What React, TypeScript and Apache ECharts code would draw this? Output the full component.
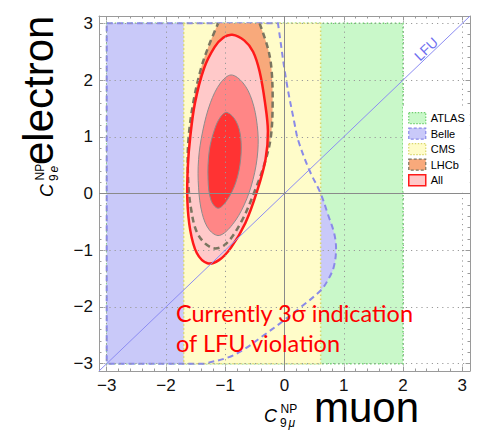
import React, { useEffect, useRef } from "react";
import * as echarts from "echarts";

// Axis window: a small pad beyond the ±3 range on every side
const axisMin = -3.13;
const axisMax = 3.13;
const majorTicks = [-3, -2, -1, 0, 1, 2, 3];
const minorTicks: number[] = [];
for (let i = -15; i <= 15; i++) if (i % 5 !== 0) minorTicks.push(i / 5);

// Allowed bands of the individual experiments, (C9mu, C9e)
const atlasX = [-3, 2];
const atlasY = [-3, 3];
const cmsX = [-1.7, 0.61];
const cmsY = [-3, 3];

// Belle region: left/top/bottom frame edges plus its dashed right boundary
const bellePts = [
  [-3, 3], [-0.11, 3], [0.03, 1.99], [0.17, 1.23], [0.23, 0.94], [0.42, 0.41],
  [0.61, 0], [0.73, -0.36], [0.84, -0.71], [0.87, -0.99], [0.83, -1.3],
  [0.73, -1.53], [0.61, -1.71], [0.28, -2.0], [-0.05, -2.27], [-0.39, -2.53],
  [-0.67, -2.74], [-0.95, -2.89], [-1.35, -3], [-3, -3],
];
const belleCorners = [0, 1, 18, 19];

// LHCb contour, cut by the upper edge at C9e = 3
const lhcbPts = [
  [-1.12, 3], [-0.42, 3], [-0.28, 2.56], [-0.22, 2.2], [-0.2, 1.6], [-0.23, 1.0],
  [-0.33, 0.55], [-0.5, 0.05], [-0.73, -0.5], [-1.0, -0.9], [-1.22, -0.96],
  [-1.46, -0.72], [-1.58, -0.25], [-1.63, 0.35], [-1.62, 0.96], [-1.54, 1.6],
  [-1.41, 2.2], [-1.28, 2.6],
];
const lhcbCorners = [0, 1];

// Global fit ("All"): 3, 2 and 1 sigma contours
const all3Pts = [
  [-0.88, 2.8], [-0.68, 2.7], [-0.53, 2.5], [-0.42, 2.15], [-0.33, 1.61],
  [-0.28, 1.1], [-0.32, 0.6], [-0.46, 0.05], [-0.66, -0.52], [-0.9, -0.95],
  [-1.1, -1.17], [-1.3, -1.23], [-1.48, -1.05], [-1.59, -0.65], [-1.64, -0.1],
  [-1.63, 0.5], [-1.59, 1.0], [-1.51, 1.6], [-1.36, 2.2], [-1.18, 2.58], [-1.03, 2.75],
];
const all2Pts = [
  [-0.9, 2.09], [-0.7, 1.95], [-0.55, 1.65], [-0.46, 1.2], [-0.45, 0.75],
  [-0.53, 0.25], [-0.68, -0.2], [-0.88, -0.55], [-1.1, -0.74], [-1.27, -0.64],
  [-1.39, -0.35], [-1.45, 0.1], [-1.45, 0.6], [-1.38, 1.1], [-1.25, 1.6], [-1.08, 1.95],
];
const all1Pts = [
  [-0.97, 1.43], [-0.82, 1.28], [-0.74, 1.0], [-0.74, 0.6], [-0.82, 0.2],
  [-0.97, -0.12], [-1.12, -0.26], [-1.24, -0.12], [-1.29, 0.25], [-1.27, 0.75],
  [-1.18, 1.13], [-1.08, 1.35],
];

// Lepton flavour universality diagonal
const lfuLine = [[axisMin, axisMin], [axisMax, axisMax]];

const legendNames = ["ATLAS", "Belle", "CMS", "LHCb", "All"];

const COL = {
  atlas: "#c9f8c9", atlasEdge: "#6fcf6f",
  belle: "#c9c9f9", belleEdge: "#8a8ae8",
  cms: "#fffcc9", cmsEdge: "#d9d66a",
  lhcb: "#f8a97b", lhcbEdge: "#7b7560",
  all3: "#ffc9c9", all2: "#ff8686", all1: "#ff3333", allEdge: "#ff1a1a",
  frame: "#9a9a9a", grid: "#9a9a9a", lfu: "#8c8cf2",
};

const FONT = '"Liberation Sans", Arial, sans-serif';

type ShapeOpts = {
  fill?: string; stroke?: string; width?: number; dash?: number[] | null;
  smooth?: number; corners?: number[]; open?: boolean;
};

function regionSeries(name: string, pts: number[][], o: ShapeOpts, itemStyle?: any) {
  return {
    type: "custom",
    name,
    silent: true,
    data: [0],
    itemStyle,
    renderItem: (_params: any, api: any) => {
      const px: number[][] = [];
      pts.forEach((p, i) => {
        const c = api.coord(p);
        px.push(c);
        if (o.corners && o.corners.includes(i)) px.push([c[0], c[1]]);
      });
      return {
        type: o.open ? "polyline" : "polygon",
        shape: { points: px, smooth: o.smooth ?? 0 },
        style: {
          fill: o.fill ?? "none",
          stroke: o.stroke ?? "none",
          lineWidth: o.width ?? 1,
          lineDash: o.dash ?? null,
        },
      };
    },
  };
}

function boxPts(xs: number[], ys: number[]) {
  return [[xs[0], ys[1]], [xs[1], ys[1]], [xs[1], ys[0]], [xs[0], ys[0]]];
}

const minus = (v: number) => (v < 0 ? "\u2212" + Math.abs(v) : String(v));

function axisSet(pos: string, primary: boolean, minor: boolean) {
  const ax: any = {
    type: "value",
    min: axisMin,
    max: axisMax,
    position: pos,
    axisLine: { show: !minor, onZero: false, lineStyle: { color: COL.frame, width: 1 } },
    axisTick: {
      show: true, inside: true, length: minor ? 2.5 : 4.5,
      customValues: minor ? minorTicks : majorTicks,
      lineStyle: { color: COL.frame, width: 1 },
    },
    axisLabel: { show: false },
    splitLine: { show: false },
  };
  if (primary) {
    ax.z = 3;
    ax.axisLabel = {
      show: true, customValues: majorTicks, formatter: minus, margin: 6,
      fontSize: 17, color: "#111", fontFamily: FONT,
    };
    ax.splitLine = { show: true, lineStyle: { color: COL.grid, width: 1, type: [1.2, 4] } };
  }
  return ax;
}

// Axis title: italic C with NP superscript and flavour subscript, then a word
function axisTitle(x: number, y: number, rotation: number, sub: string, word: string, wordX: number) {
  const t = (tx: number, ty: number, text: string, size: number, italic = false, lh?: number) => ({
    type: "text", x: tx, y: ty,
    style: {
      text, fill: "#000", font: `${italic ? "italic " : ""}${size}px ${FONT}`,
      align: "left", verticalAlign: "middle", lineHeight: lh ?? size,
    },
  });
  return {
    type: "group", x, y, rotation, z: 20,
    children: [
      t(0, -6.3, "C", 18, true),
      t(16.5, -13.2, "NP", 12, false, 10),
      t(16, 0.6, "9", 12, false, 10),
      t(24.5, 0.6, sub, 12, true, 10),
      t(wordX, -15, word, 42, false, 26),
    ],
  };
}

export default function App() {
  const ref = useRef<HTMLDivElement>(null);

  useEffect(() => {
    if (!ref.current) return;
    const chart = echarts.init(ref.current, undefined, { renderer: "svg" });

    const legendStyles: Record<string, any> = {
      ATLAS: { color: COL.atlas, borderColor: COL.atlasEdge, borderWidth: 1.2, borderType: [1.5, 1.5] },
      Belle: { color: COL.belle, borderColor: COL.belleEdge, borderWidth: 1.2, borderType: [3, 2] },
      CMS: { color: COL.cms, borderColor: COL.cmsEdge, borderWidth: 1.2, borderType: [1.5, 1.5] },
      LHCb: { color: COL.lhcb, borderColor: COL.lhcbEdge, borderWidth: 1.2, borderType: [3, 2] },
      All: { color: COL.all3, borderColor: COL.allEdge, borderWidth: 1.5, borderType: "solid" },
    };

    chart.setOption({
      animation: false,
      grid: { left: 99, right: 9, top: 16, bottom: 61, show: false },
      xAxis: [
        axisSet("bottom", true, false),
        axisSet("top", false, false),
        axisSet("bottom", false, true),
        axisSet("top", false, true),
      ],
      yAxis: [
        axisSet("left", true, false),
        axisSet("right", false, false),
        axisSet("left", false, true),
        axisSet("right", false, true),
      ],
      legend: {
        orient: "vertical",
        left: 403,
        top: 107,
        padding: [5, 5, 5, 5],
        backgroundColor: "#fff",
        itemWidth: 17,
        itemHeight: 11,
        itemGap: 3.3,
        icon: "rect",
        selectedMode: false,
        z: 10,
        textStyle: { fontSize: 11, color: "#000", fontFamily: FONT, lineHeight: 11 },
        data: legendNames.map((n) => ({ name: n, icon: "rect", itemStyle: legendStyles[n] })),
      },
      series: [
        regionSeries("ATLAS", boxPts(atlasX, atlasY), {
          fill: COL.atlas, stroke: COL.atlasEdge, width: 1.5, dash: [1.5, 2.5],
        }, legendStyles.ATLAS),
        regionSeries("Belle", bellePts, { fill: COL.belle, smooth: 0.35, corners: belleCorners }, legendStyles.Belle),
        regionSeries("CMS", boxPts(cmsX, cmsY), {
          fill: COL.cms, stroke: COL.cmsEdge, width: 1.5, dash: [1.5, 2.5],
        }, legendStyles.CMS),
        regionSeries("Belle edge", bellePts, {
          stroke: COL.belleEdge, width: 2, dash: [6, 4], smooth: 0.35, corners: belleCorners,
        }),
        regionSeries("LHCb", lhcbPts, { fill: COL.lhcb, smooth: 0.35, corners: lhcbCorners }, legendStyles.LHCb),
        regionSeries("All", all3Pts, { fill: COL.all3, smooth: 0.35 }, legendStyles.All),
        regionSeries("LHCb edge", lhcbPts.slice(1).concat([lhcbPts[0]]), {
          stroke: COL.lhcbEdge, width: 2.5, dash: [6, 4], smooth: 0.35, open: true,
        }),
        regionSeries("All 2sigma", all2Pts, { fill: COL.all2, stroke: "#8c8c8c", width: 1, smooth: 0.35 }),
        regionSeries("All 1sigma", all1Pts, { fill: COL.all1, stroke: "#8c8c8c", width: 1, smooth: 0.35 }),
        regionSeries("All edge", all3Pts, { stroke: COL.allEdge, width: 2.5, smooth: 0.35 }),
        {
          type: "line",
          name: "LFU",
          data: lfuLine,
          symbol: "none",
          silent: true,
          z: 4,
          lineStyle: { color: COL.lfu, width: 1 },
          markLine: {
            silent: true,
            symbol: ["none", "none"],
            label: { show: false },
            lineStyle: { color: "#8a8a8a", width: 1, type: "solid" },
            data: [{ xAxis: 0 }, { yAxis: 0 }],
          },
        },
      ],
      graphic: [
        {
          type: "text", x: 426, y: 49, rotation: 0.763, z: 20,
          style: { text: "LFU", fill: "#6f6ff0", font: `14px ${FONT}`, align: "center", verticalAlign: "middle" },
        },
        {
          type: "text", x: 176, y: 298, z: 20,
          style: {
            text: "Currently 3\u03c3 indication\nof LFU violation",
            fill: "#ff0000", font: '23.5px Lato, "Open Sans", sans-serif',
            lineHeight: 30, align: "left", verticalAlign: "top",
          },
        },
        axisTitle(264, 422.3, 0, "\u03bc", "muon", 50),
        axisTitle(53, 197, Math.PI / 2, "e", "electron", 32),
      ],
    });

    return () => chart.dispose();
  }, []);

  return (
    <div
      ref={ref}
      style={{ position: "fixed", left: 0, top: 0, width: 479, height: 432, background: "#fff" }}
    />
  );
}
